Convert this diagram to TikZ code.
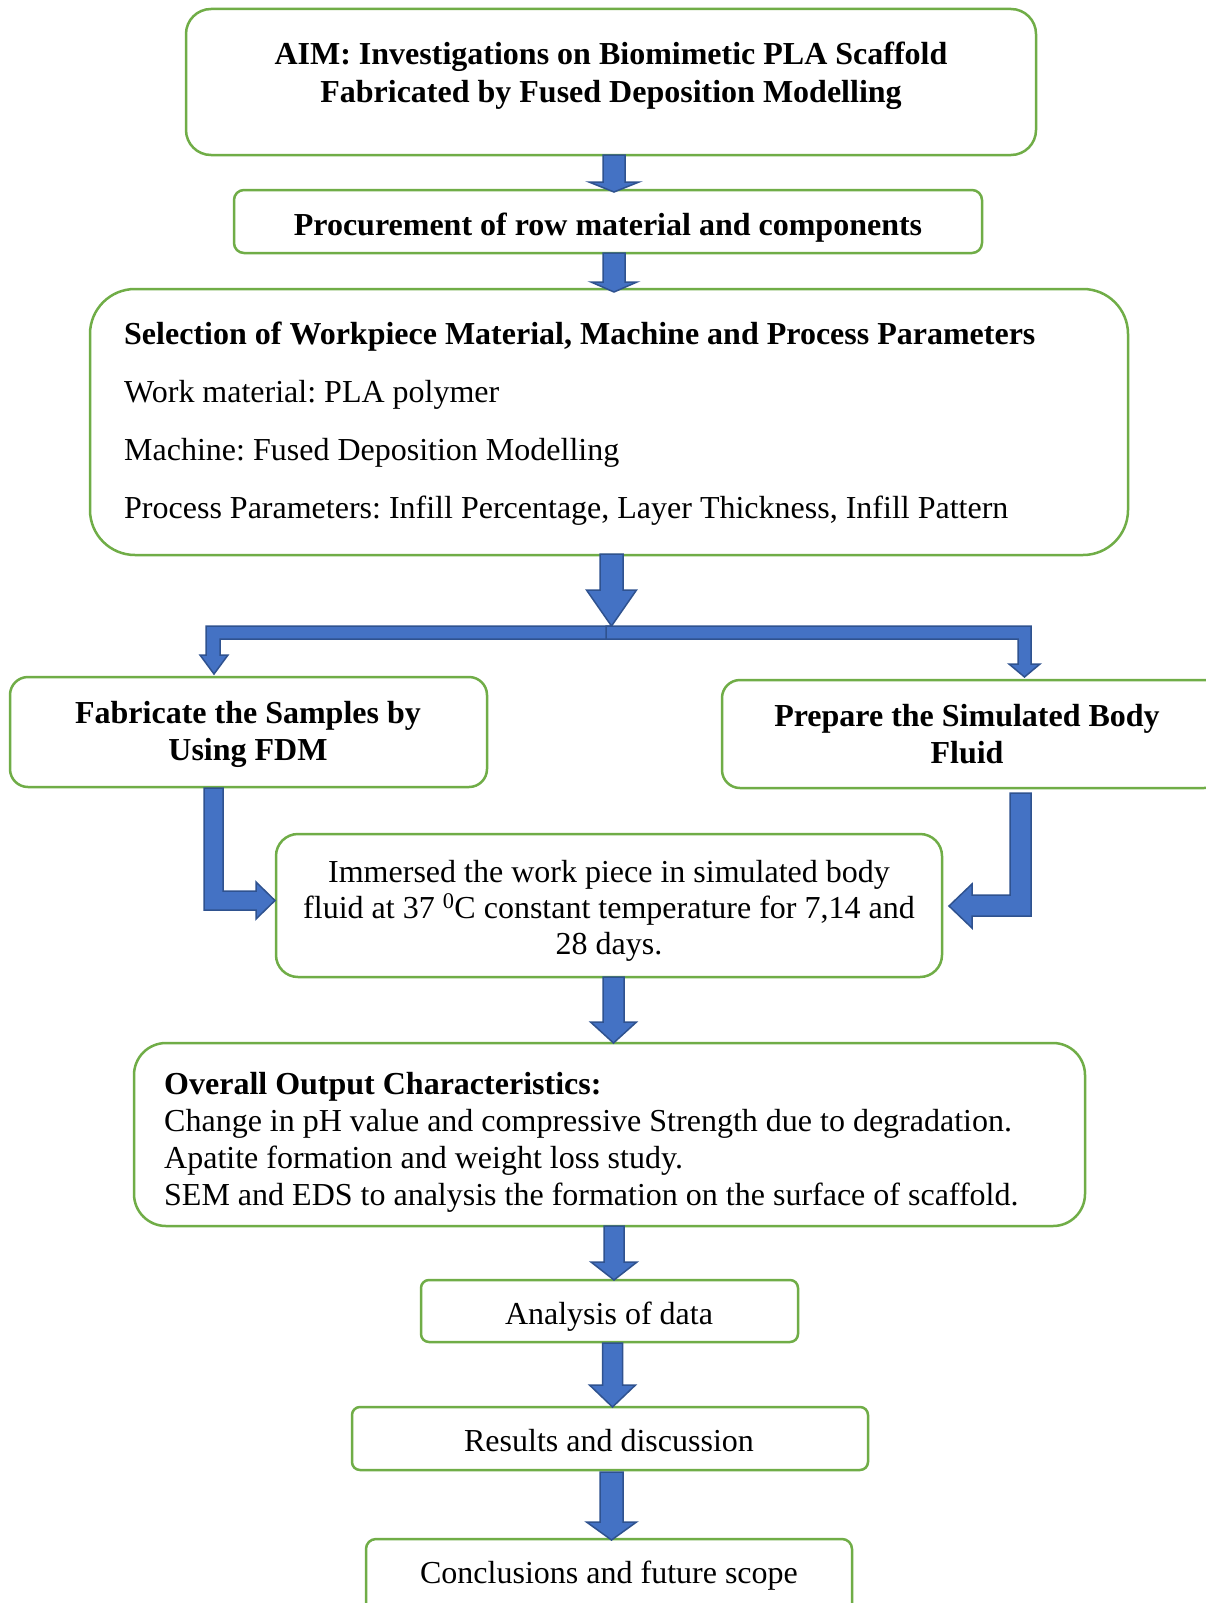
\documentclass[tikz,border=0pt]{standalone}
\usepackage{fontspec}
\setmainfont{Liberation Serif}
\definecolor{boxgreen}{HTML}{70AD47}
\definecolor{arrowblue}{HTML}{4472C4}
\definecolor{arrowedge}{HTML}{2F528F}
\newcommand\dnarrow[6]{%
  \draw[blockarrow] (#1-#5,#2) -- (#1+#5,#2) -- (#1+#5,#3) -- (#1+#6,#3) -- (#1,#4) -- (#1-#6,#3) -- (#1-#5,#3) -- cycle;}
\begin{document}
\frenchspacing
\begin{tikzpicture}[x=1pt,y=-1pt,
  box/.style={draw=boxgreen, line width=2.5pt, inner sep=0pt},
  blockarrow/.style={fill=arrowblue, draw=arrowedge, line width=1.5pt, line join=miter},
  txt/.style={font=\fontsize{32}{37}\selectfont, inner sep=0pt, anchor=base},
  btxt/.style={font=\fontsize{32}{37}\selectfont\bfseries, inner sep=0pt, anchor=base},
  ltxt/.style={txt, anchor=base west},
  lbtxt/.style={btxt, anchor=base west}]
\clip (0,0) rectangle (1206,1603);
\fill[white] (0,0) rectangle (1206,1603);
% boxes
\node[box, rounded corners=25pt, minimum width=850pt, minimum height=146pt] (aim) at (611,82) {};
\node[box, rounded corners=10pt, minimum width=748pt, minimum height=63pt] (proc) at (608,221.5) {};
\node[box, rounded corners=45pt, minimum width=1038pt, minimum height=266pt] (sel) at (609,422) {};
\node[box, rounded corners=18pt, minimum width=477pt, minimum height=110pt] (fab) at (248.5,732) {};
\node[box, rounded corners=18pt, minimum width=500pt, minimum height=108pt] (prep) at (972,734) {};
\node[box, rounded corners=22pt, minimum width=666pt, minimum height=143pt] (imm) at (609,905.5) {};
\node[box, rounded corners=32pt, minimum width=951pt, minimum height=183pt] (over) at (609.5,1134.5) {};
\node[box, rounded corners=8pt, minimum width=377pt, minimum height=62pt] (ana) at (609.5,1311) {};
\node[box, rounded corners=8pt, minimum width=516pt, minimum height=63pt] (res) at (610,1438.5) {};
\node[box, rounded corners=10pt, minimum width=486pt, minimum height=90pt] (conc) at (609,1584) {};
% texts
\node[btxt] (aim1) at (611,64) {AIM: Investigations on Biomimetic PLA Scaffold};
\node[btxt] (aim2) at (611,102) {Fabricated by Fused Deposition Modelling};
\node[btxt] (proct) at (608,235) {Procurement of row material and components};
\node[lbtxt] (sel1) at (124,344) {Selection of Workpiece Material, Machine and Process Parameters};
\node[ltxt] (sel2) at (124,402) {Work material: PLA polymer};
\node[ltxt] (sel3) at (124,460) {Machine: Fused Deposition Modelling};
\node[ltxt] (sel4) at (124,518) {Process Parameters: Infill Percentage, Layer Thickness, Infill Pattern};
\node[btxt] (fab1) at (248,723) {Fabricate the Samples by};
\node[btxt] (fab2) at (248,760) {Using FDM};
\node[btxt] (prep1) at (967,726) {Prepare the Simulated Body};
\node[btxt] (prep2) at (967,763) {Fluid};
\node[txt] (imm1) at (609,882) {Immersed the work piece in simulated body};
\node[txt] (imm2) at (609,918) {fluid at 37 \textsuperscript{0}C constant temperature for 7,14 and};
\node[txt] (imm3) at (609,954) {28 days.};
\node[lbtxt] (over1) at (164,1094) {Overall Output Characteristics:};
\node[ltxt] (over2) at (164,1131) {Change in pH value and compressive Strength due to degradation.};
\node[ltxt] (over3) at (164,1168) {Apatite formation and weight loss study.};
\node[ltxt] (over4) at (164,1205) {SEM and EDS to analysis the formation on the surface of scaffold.};
\node[txt] (anat) at (609,1324) {Analysis of data};
\node[txt] (rest) at (609,1451) {Results and discussion};
\node[txt] (conct) at (609,1583) {Conclusions and future scope};
% straight block arrows
\dnarrow{614}{155}{182}{192}{11}{25}
\dnarrow{614}{253}{282}{292}{11}{23}
\dnarrow{611.5}{554}{590}{626}{11.5}{25}
\dnarrow{613.5}{977}{1022}{1043}{10.5}{23}
\dnarrow{614}{1226}{1262}{1280}{10}{23}
\dnarrow{612.5}{1343}{1385}{1407}{10}{23}
\dnarrow{611.5}{1472}{1522}{1540}{11.5}{25}
% split arrows
\draw[blockarrow] (611,626) -- (206,626) -- (206,655) -- (200,655) -- (214,674) -- (228,655) -- (220,655) -- (220,639) -- (611,639) -- cycle;
\draw[blockarrow] (606,626) -- (1031,626) -- (1031,664) -- (1040,664) -- (1024.5,677) -- (1009,664) -- (1018,664) -- (1018,639) -- (606,639) -- cycle;
% elbow arrows
\draw[blockarrow] (204,788) -- (223,788) -- (223,891) -- (256,891) -- (256,882) -- (275,900.5) -- (256,919) -- (256,910) -- (204,910) -- cycle;
\draw[blockarrow] (1031,793) -- (1031,916) -- (972,916) -- (972,928) -- (949,906) -- (972,884) -- (972,895) -- (1010,895) -- (1010,793) -- cycle;
\end{tikzpicture}
\end{document}
